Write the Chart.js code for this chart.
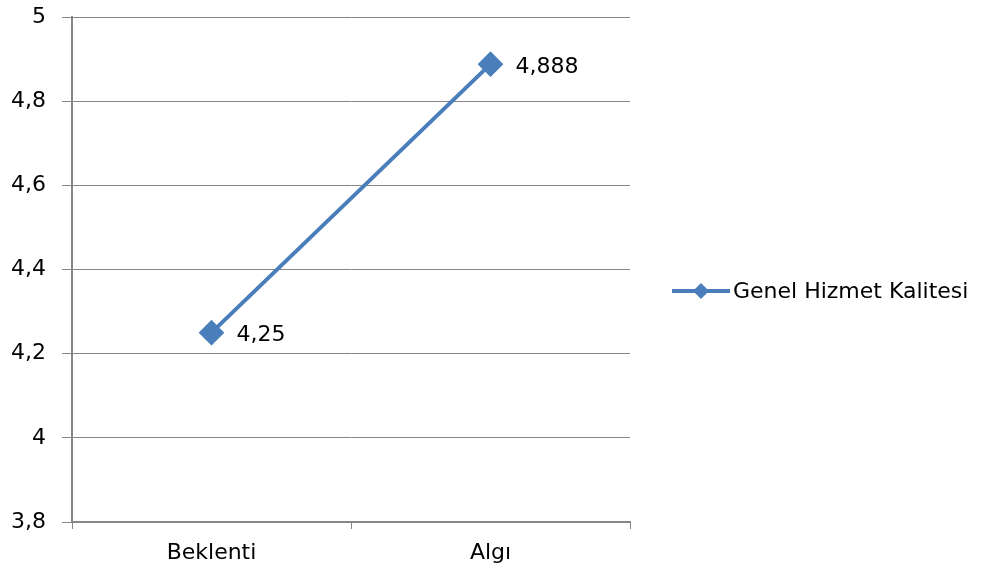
<!DOCTYPE html>
<html>
<head>
<meta charset="utf-8">
<script src="https://cdn.jsdelivr.net/npm/chart.js@4"></script>
<style>
  html, body { margin: 0; padding: 0; background: #fff; }
  #wrap { width: 984px; height: 577px; }
</style>
</head>
<body>
<div id="wrap"><canvas id="grafik" width="984" height="577"></canvas></div>
<script>
const kategoriler = ['Beklenti', 'Algı'];
const degerler = [4.25, 4.888];
const seriAdi = 'Genel Hizmet Kalitesi';
const yMin = 3.8;
const yMax = 5;
const yAdim = 0.2;

const mavi = '#4a7ebb';
const izgara = '#868686';
const yazi = '"DejaVu Sans", sans-serif';

const virgullu = v => String(Number(v.toFixed(3))).replace('.', ',');

// noktaların yanına değer yazar
const degerEtiketi = {
  id: 'degerEtiketi',
  afterDatasetsDraw(chart) {
    const ctx = chart.ctx;
    const meta = chart.getDatasetMeta(0);
    ctx.save();
    ctx.font = '22px ' + yazi;
    ctx.fillStyle = '#000';
    ctx.textBaseline = 'middle';
    meta.data.forEach((p, i) => {
      ctx.fillText(virgullu(degerler[i]), p.x + 25, p.y + 3);
    });
    ctx.restore();
  }
};

// sağdaki açıklama: çizgi + baklava işareti + seri adı
const aciklama = {
  id: 'aciklama',
  afterDraw(chart) {
    const ctx = chart.ctx;
    const y = 291;
    ctx.save();
    ctx.strokeStyle = mavi;
    ctx.lineWidth = 4;
    ctx.beginPath();
    ctx.moveTo(672, y);
    ctx.lineTo(730, y);
    ctx.stroke();
    ctx.fillStyle = mavi;
    ctx.beginPath();
    ctx.moveTo(701, y - 8);
    ctx.lineTo(709, y);
    ctx.lineTo(701, y + 8);
    ctx.lineTo(693, y);
    ctx.closePath();
    ctx.fill();
    ctx.font = '22px ' + yazi;
    ctx.fillStyle = '#000';
    ctx.textBaseline = 'middle';
    ctx.fillText(seriAdi, 733, y + 1);
    ctx.restore();
  }
};

new Chart(document.getElementById('grafik'), {
  type: 'line',
  data: {
    labels: kategoriler,
    datasets: [{
      label: seriAdi,
      data: degerler,
      borderColor: mavi,
      backgroundColor: mavi,
      borderWidth: 4,
      pointStyle: 'rectRot',
      pointRadius: 10,
      pointHoverRadius: 10,
      tension: 0
    }]
  },
  options: {
    responsive: false,
    animation: false,
    layout: { padding: { top: 17, right: 354, left: 0, bottom: 0 } },
    plugins: {
      legend: { display: false },
      tooltip: { enabled: false }
    },
    scales: {
      x: {
        offset: true,
        afterFit: s => { s.height = 55; s.paddingLeft = 0; s.paddingRight = 0; },
        grid: { offset: true, drawOnChartArea: false, color: izgara, tickLength: 7 },
        border: { color: izgara, width: 2 },
        ticks: { color: '#000', font: { family: yazi, size: 22 }, padding: 11 }
      },
      y: {
        min: yMin,
        max: yMax,
        afterFit: s => { s.width = 72; s.paddingTop = 0; s.paddingBottom = 0; },
        grid: { color: izgara, lineWidth: 1, tickLength: 10 },
        border: { color: izgara, width: 2 },
        ticks: {
          stepSize: yAdim,
          color: '#000',
          font: { family: yazi, size: 22 },
          padding: 16,
          callback: v => virgullu(v)
        }
      }
    }
  },
  plugins: [degerEtiketi, aciklama]
});
</script>
</body>
</html>
